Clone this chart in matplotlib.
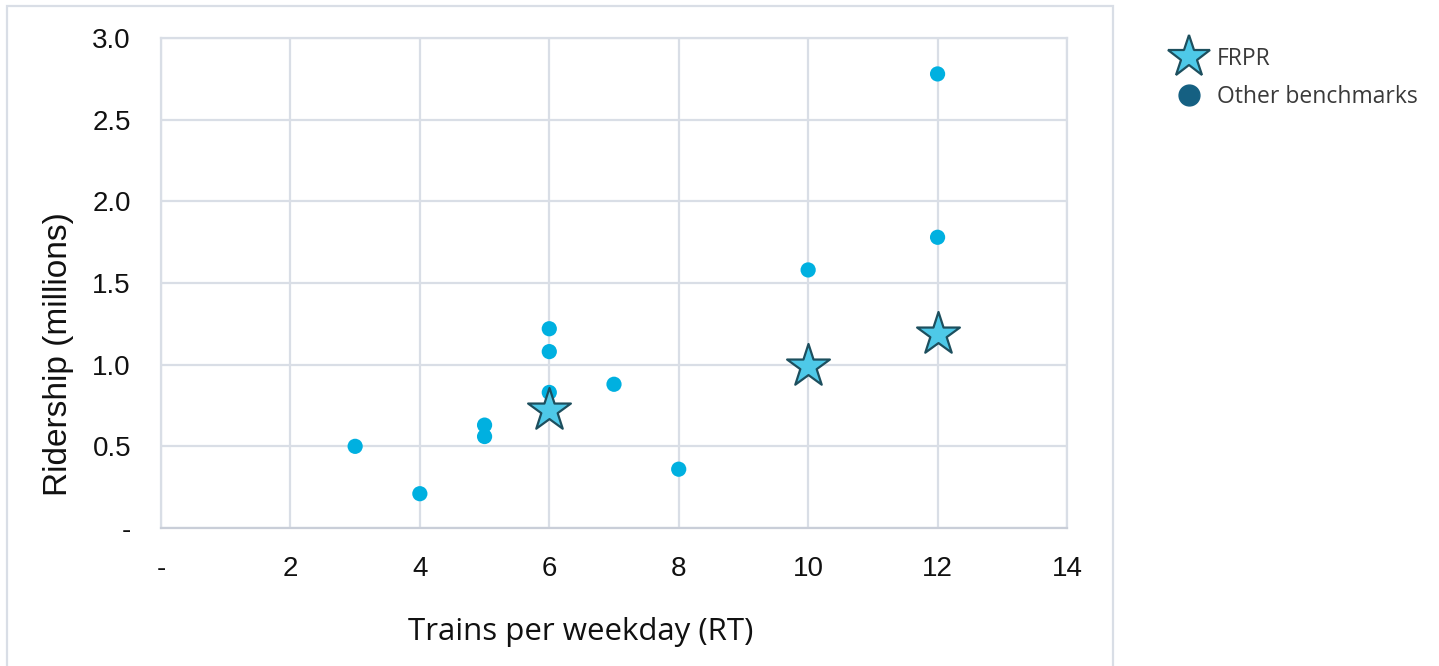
import matplotlib
matplotlib.use("Agg")
import matplotlib.pyplot as plt
from matplotlib.patches import Rectangle
from matplotlib.lines import Line2D

# Benchmark corridors: trains per weekday (round trips) vs. ridership (millions)
bench_trains = [3, 4, 5, 5, 6, 6, 6, 7, 8, 10, 12, 12]
bench_ridership = [0.50, 0.21, 0.63, 0.56, 1.22, 1.08, 0.83, 0.88, 0.36, 1.58, 1.78, 2.78]

# FRPR service scenarios
frpr_trains = [6, 10, 12]
frpr_ridership = [0.72, 0.99, 1.19]

x_ticks = [0, 2, 4, 6, 8, 10, 12, 14]
x_tick_labels = ["-", "2", "4", "6", "8", "10", "12", "14"]
y_ticks = [0, 0.5, 1.0, 1.5, 2.0, 2.5, 3.0]
y_tick_labels = ["-", "0.5", "1.0", "1.5", "2.0", "2.5", "3.0"]

W, H = 1439, 666
fig = plt.figure(figsize=(W / 100, H / 100), dpi=100)
fig.patch.set_facecolor("white")

grid_col = "#d9dee6"
frame = Rectangle((7 / W, -0.1), (1113 - 7) / W, 1 - 6 / H + 0.1,
                  transform=fig.transFigure, fill=False,
                  edgecolor=grid_col, linewidth=1.6, clip_on=False)
fig.add_artist(frame)

ax = fig.add_axes([161 / W, 138 / H, 906 / W, 490 / H])
ax.set_xlim(0, 14)
ax.set_ylim(0, 3.0)

ax.set_xticks(x_ticks)
ax.set_xticklabels(x_tick_labels)
ax.set_yticks(y_ticks)
ax.set_yticklabels(y_tick_labels)
ax.tick_params(length=0, labelsize=20, colors="#111111")
for lab in ax.get_xticklabels() + ax.get_yticklabels():
    lab.set_family("Liberation Sans")
ax.tick_params(axis="y", pad=21.6)
ax.tick_params(axis="x", pad=20)

ax.grid(True, color=grid_col, linewidth=1.6)
ax.set_axisbelow(True)
for sp in ax.spines.values():
    sp.set_color(grid_col)
    sp.set_linewidth(1.6)
ax.spines["bottom"].set_color("#c9ced8")

ax.scatter(bench_trains, bench_ridership, s=120, color="#00b0e0",
           edgecolors="none", zorder=3)
ax.scatter(frpr_trains, frpr_ridership, s=1050, marker="*", color="#4ec9e8",
           edgecolors="#1d4f5e", linewidths=1.6, zorder=4)

# Axis titles
fig.text(59 / W, 1 - 354 / H, "Ridership (millions)", rotation=90,
         ha="center", va="center", fontsize=24, family="Liberation Sans",
         color="#111111")
fig.text(581 / W, 1 - 632 / H, "Trains per weekday (RT)",
         ha="center", va="center", fontsize=22.5, family="Open Sans",
         color="#111111")

handles = [
    Line2D([], [], linestyle="none", marker="*", markersize=32,
           markerfacecolor="#4ec9e8", markeredgecolor="#1d4f5e",
           markeredgewidth=1.6, label="FRPR"),
    Line2D([], [], linestyle="none", marker="o", markersize=15,
           markerfacecolor="#156082", markeredgecolor="#156082",
           label="Other benchmarks"),
]
leg = fig.legend(handles=handles, loc="upper left",
                 bbox_to_anchor=(1163 / W, 1 - 36 / H), frameon=False,
                 prop={"family": "Open Sans", "size": 16.5},
                 handlelength=1.3, handletextpad=0.55, labelspacing=0.6,
                 borderpad=0)
for t in leg.get_texts():
    t.set_color("#3a3a3a")

fig.savefig("out.png", dpi=100, facecolor="white")
